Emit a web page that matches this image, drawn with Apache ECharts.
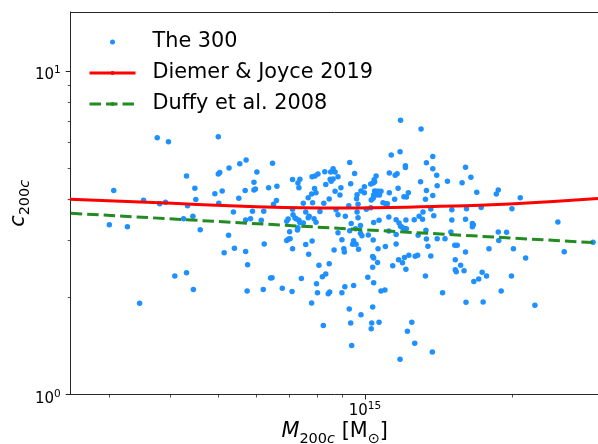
<!DOCTYPE html>
<html>
<head>
<meta charset="utf-8">
<script src="https://cdn.jsdelivr.net/npm/echarts@6/dist/echarts.min.js"></script>
<style>
html,body{margin:0;padding:0;background:#fff;}
#chart{width:598px;height:444px;}
</style>
</head>
<body>
<div id="chart"></div>
<script>
// ---- data ----
const seriesNames = ['The 300', 'Diemer & Joyce 2019', 'Duffy et al. 2008'];

// The 300 clusters: log10(M200c / Msun) and log10(c200c)
const logMass = [
14.575,14.598,14.700,14.635,14.486,14.547,14.580,14.592,14.477,14.514,
14.652,14.654,14.637,14.629,14.648,14.663,14.611,14.635,14.649,14.539,
14.700,14.703,14.722,14.693,14.708,14.701,14.721,14.712,14.733,14.731,
14.742,14.744,14.757,14.755,14.756,14.756,14.760,14.759,14.811,14.779,
14.773,14.773,14.776,14.803,14.820,14.813,14.819,14.770,14.793,14.788,
14.766,14.794,14.807,14.810,14.852,14.867,14.863,14.865,14.892,14.898,
14.904,14.897,14.900,14.891,14.884,14.874,14.893,14.852,14.879,14.886,
14.884,14.908,14.853,14.857,14.860,14.843,14.840,14.865,14.867,14.874,
14.896,14.900,14.863,14.862,14.846,14.844,14.840,14.847,14.852,14.879,
14.892,14.885,14.906,14.927,14.920,14.913,14.918,14.930,14.935,14.939,
14.929,14.931,14.920,14.935,14.945,14.969,14.979,14.971,14.951,14.939,
14.949,14.927,14.916,14.967,14.941,14.945,14.960,14.984,14.983,14.984,
14.986,14.972,14.981,14.969,14.945,14.953,14.977,14.975,14.982,14.957,
14.958,14.937,14.987,14.792,14.831,14.851,14.901,14.903,14.928,14.925,
14.953,14.959,14.977,15.018,15.033,15.041,15.159,14.891,14.968,15.016,
14.992,14.915,14.971,15.014,15.029,15.013,15.096,15.087,15.102,14.973,
15.138,15.072,14.870,15.073,15.115,15.054,15.072,15.083,15.083,15.126,
15.139,15.139,15.050,15.066,15.062,15.147,15.023,15.019,15.020,15.017,
15.012,14.999,14.992,14.999,15.013,15.017,15.020,15.024,15.028,15.033,
15.018,15.024,15.030,15.050,15.068,15.089,15.080,15.085,15.061,15.037,
15.043,15.046,15.114,15.126,15.169,15.148,15.139,15.124,15.199,15.003,
15.012,15.049,15.064,15.029,15.018,15.084,15.101,15.111,15.118,15.119,
15.141,15.135,15.178,15.178,15.070,15.073,15.076,15.080,15.085,14.991,
14.991,14.994,15.007,15.017,15.049,15.064,15.109,15.125,15.126,15.148,
15.164,15.176,15.184,15.189,15.027,15.042,15.064,15.129,15.135,15.016,
15.018,15.026,15.016,15.069,15.081,15.090,15.077,15.103,15.108,15.057,
15.084,15.124,15.006,15.185,15.196,15.185,15.187,15.203,14.986,15.206,
15.217,15.229,15.269,15.273,15.318,15.208,15.238,15.301,15.206,15.220,
15.222,15.220,15.273,15.290,15.274,15.304,15.254,15.206,15.395,15.408,
15.329,15.240,15.249,15.233,15.223,15.300,15.279,15.207,15.242,15.348,
15.467
];
const logConc = [
0.793,0.781,0.796,0.675,0.630,0.600,0.589,0.594,0.524,0.518,
0.637,0.602,0.583,0.543,0.551,0.509,0.366,0.376,0.324,0.282,
0.681,0.686,0.700,0.620,0.629,0.591,0.492,0.438,0.452,0.564,
0.606,0.713,0.724,0.630,0.539,0.442,0.401,0.320,0.714,0.687,
0.656,0.632,0.635,0.639,0.643,0.588,0.599,0.566,0.566,0.538,
0.543,0.465,0.360,0.361,0.664,0.665,0.653,0.639,0.673,0.675,
0.681,0.636,0.623,0.619,0.608,0.591,0.592,0.572,0.564,0.551,
0.546,0.565,0.555,0.545,0.542,0.542,0.535,0.538,0.531,0.530,
0.543,0.532,0.515,0.508,0.503,0.480,0.476,0.481,0.450,0.463,
0.474,0.433,0.399,0.404,0.372,0.364,0.688,0.687,0.697,0.687,
0.665,0.659,0.649,0.666,0.673,0.717,0.683,0.651,0.639,0.628,
0.616,0.604,0.591,0.583,0.571,0.555,0.551,0.617,0.605,0.564,
0.546,0.528,0.512,0.506,0.500,0.478,0.475,0.464,0.464,0.450,
0.440,0.446,0.449,0.324,0.328,0.318,0.342,0.314,0.317,0.311,
0.314,0.333,0.337,0.345,0.320,0.323,0.314,0.283,0.264,0.270,
0.246,0.213,0.221,0.221,0.223,0.203,0.223,0.195,0.158,0.151,
0.131,0.109,0.358,0.847,0.820,0.740,0.750,0.707,0.701,0.716,
0.735,0.697,0.684,0.682,0.677,0.677,0.675,0.663,0.657,0.653,
0.650,0.642,0.629,0.623,0.601,0.606,0.629,0.628,0.628,0.628,
0.616,0.616,0.616,0.623,0.637,0.623,0.611,0.610,0.603,0.592,
0.589,0.589,0.657,0.630,0.659,0.645,0.615,0.603,0.654,0.572,
0.577,0.548,0.540,0.538,0.531,0.539,0.540,0.551,0.541,0.564,
0.552,0.573,0.571,0.539,0.530,0.520,0.517,0.513,0.512,0.522,
0.498,0.490,0.493,0.477,0.505,0.494,0.492,0.507,0.480,0.481,
0.481,0.502,0.461,0.461,0.450,0.457,0.465,0.458,0.428,0.426,
0.422,0.408,0.393,0.416,0.423,0.430,0.407,0.427,0.430,0.398,
0.387,0.366,0.362,0.416,0.399,0.385,0.379,0.382,0.588,0.702,
0.671,0.625,0.619,0.632,0.608,0.574,0.578,0.574,0.541,0.528,
0.524,0.518,0.502,0.501,0.476,0.450,0.450,0.440,0.533,0.441,
0.422,0.378,0.366,0.357,0.349,0.366,0.320,0.285,0.286,0.276,
0.470
];

// Diemer & Joyce 2019 model curve (M200c in Msun, c200c)
const djMass = [2.49e14, 3.80e14, 5.81e14, 8.89e14, 1.30e15, 1.98e15, 3.00e15];
const djConc = [4.01, 3.91, 3.81, 3.77, 3.80, 3.88, 4.03];

// Duffy et al. 2008 power law
const duffyMass = [2.5e14, 3.0e15];
const duffyConc = [3.63, 2.94];

// axis ranges and ticks
const xMin = 2.5e14, xMax = 3.01e15;
const yMin = 1, yMax = 15.19;
const xMajorTicks = [1e15];
const xMinorTicks = [3e14, 4e14, 5e14, 6e14, 7e14, 8e14, 9e14, 2e15, 3e15];
const yMajorTicks = [1, 10];
const yMinorTicks = [2, 3, 4, 5, 6, 7, 8, 9];

// ---- chart ----
const FONT = "'DejaVu Sans', sans-serif";
const SPINE = '#262626';

const tickRich = {
  b: {fontFamily: FONT, fontSize: 15, lineHeight: 18, verticalAlign: 'bottom', color: '#000'},
  s: {fontFamily: FONT, fontSize: 10.5, lineHeight: 18, verticalAlign: 'top', color: '#000'}
};
const nameRich = {
  i: {fontFamily: FONT, fontStyle: 'italic', fontSize: 20.8, lineHeight: 22, verticalAlign: 'top', color: '#000'},
  n: {fontFamily: FONT, fontSize: 20.8, lineHeight: 22, verticalAlign: 'top', color: '#000'},
  sub: {fontFamily: FONT, fontSize: 14.5, lineHeight: 15, padding: [10, 0, 0, 0], verticalAlign: 'top', color: '#000'},
  subi: {fontFamily: FONT, fontStyle: 'italic', fontSize: 14.5, lineHeight: 15, padding: [10, 0, 0, 0], verticalAlign: 'top', color: '#000'}
};
const powLabel = v => '{b|10}{s|' + Math.round(Math.log10(v)) + '}';

const scatterData = logMass.map((m, i) => [Math.pow(10, m), Math.pow(10, logConc[i])]);
const djData = djMass.map((m, i) => [m, djConc[i]]);
const duffyData = duffyMass.map((m, i) => [m, duffyConc[i]]);

const chart = echarts.init(document.getElementById('chart'), null, {renderer: 'canvas'});

const baseX = {type: 'log', logBase: 10, min: xMin, max: xMax, gridIndex: 0, splitLine: {show: false}, minorTick: {show: false}, nameMoveOverlap: false};
const baseY = {type: 'log', logBase: 10, min: yMin, max: yMax, gridIndex: 0, splitLine: {show: false}, minorTick: {show: false}, nameMoveOverlap: false};

chart.setOption({
  animation: false,
  backgroundColor: '#fff',
  grid: {left: 70.7, top: 12, width: 528, height: 382.5, containLabel: false, outerBoundsMode: 'none'},
  legend: {
    orient: 'vertical', left: 88, top: 31.5, padding: 0,
    itemWidth: 46, itemHeight: 5, itemGap: 10,
    data: [{name: seriesNames[0], icon: 'circle'}, {name: seriesNames[1]}, {name: seriesNames[2]}],
    lineStyle: {width: 3},
    textStyle: {fontFamily: FONT, fontSize: 20.8, lineHeight: 21, color: '#000', padding: [0, 0, 0, 12]},
    selectedMode: false
  },
  xAxis: [
    Object.assign({}, baseX, {
      position: 'bottom',
      name: '{i|M}{sub|200}{subi|c}{n| [M}{sub|\u2299}{n|]}',
      nameLocation: 'middle', nameGap: 27,
      nameTextStyle: {rich: nameRich},
      axisLine: {show: true, lineStyle: {color: SPINE, width: 1}},
      axisTick: {show: true, customValues: xMajorTicks, length: 5, lineStyle: {color: SPINE, width: 1}},
      axisLabel: {show: true, customValues: xMajorTicks, formatter: powLabel, rich: tickRich, margin: 0, padding: [6, 0, 0, 0]}
    }),
    Object.assign({}, baseX, {
      position: 'bottom',
      axisLine: {show: false},
      axisTick: {show: true, customValues: xMinorTicks, length: 3, lineStyle: {color: SPINE, width: 0.8}},
      axisLabel: {show: false}
    }),
    Object.assign({}, baseX, {
      position: 'top',
      axisLine: {show: true, lineStyle: {color: SPINE, width: 1}},
      axisTick: {show: false},
      axisLabel: {show: false}
    })
  ],
  yAxis: [
    Object.assign({}, baseY, {
      position: 'left',
      name: '{i|c}{sub|200}{subi|c}',
      nameLocation: 'middle', nameGap: 41,
      nameTextStyle: {rich: nameRich},
      axisLine: {show: true, lineStyle: {color: SPINE, width: 1}},
      axisTick: {show: true, customValues: yMajorTicks, length: 5, lineStyle: {color: SPINE, width: 1}},
      axisLabel: {show: true, customValues: yMajorTicks, formatter: powLabel, rich: tickRich, margin: 10, padding: [6, 0, 0, 0]}
    }),
    Object.assign({}, baseY, {
      position: 'left',
      axisLine: {show: false},
      axisTick: {show: true, customValues: yMinorTicks, length: 3, lineStyle: {color: SPINE, width: 0.8}},
      axisLabel: {show: false}
    })
  ],
  series: [
    {
      name: seriesNames[0], type: 'scatter', xAxisIndex: 0, yAxisIndex: 0,
      data: scatterData, symbol: 'circle', symbolSize: 5.5,
      itemStyle: {color: '#1e90ff', opacity: 1}, z: 2, silent: true
    },
    {
      name: seriesNames[1], type: 'line', xAxisIndex: 0, yAxisIndex: 0,
      data: djData, smooth: true, symbol: 'none', showSymbol: false,
      lineStyle: {color: '#ff0000', width: 3}, itemStyle: {color: '#ff0000'}, z: 3, silent: true
    },
    {
      name: seriesNames[2], type: 'line', xAxisIndex: 0, yAxisIndex: 0,
      data: duffyData, symbol: 'none', showSymbol: false,
      lineStyle: {color: '#228b22', width: 3, type: [11.5, 5]}, itemStyle: {color: '#228b22'}, z: 4, silent: true
    }
  ]
});
</script>
</body>
</html>
